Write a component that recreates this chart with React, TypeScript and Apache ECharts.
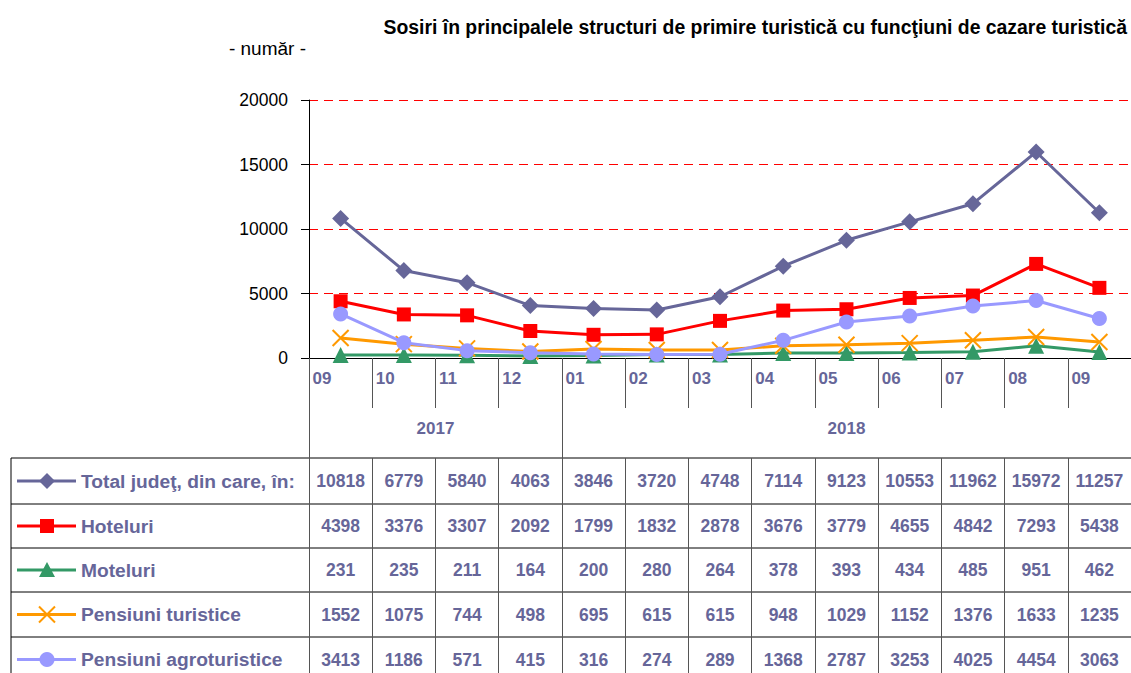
import React, { useEffect, useRef } from "react";
import * as echarts from "echarts";

const months = ["09", "10", "11", "12", "01", "02", "03", "04", "05", "06", "07", "08", "09"];
const years = ["2017", "2018"];
const yearStart = [0, 4];
const yearSpan = [4, 9];

const seriesNames = [
  "Total judeţ, din care, în:",
  "Hoteluri",
  "Moteluri",
  "Pensiuni turistice",
  "Pensiuni agroturistice",
];
const total = [10818, 6779, 5840, 4063, 3846, 3720, 4748, 7114, 9123, 10553, 11962, 15972, 11257];
const hoteluri = [4398, 3376, 3307, 2092, 1799, 1832, 2878, 3676, 3779, 4655, 4842, 7293, 5438];
const moteluri = [231, 235, 211, 164, 200, 280, 264, 378, 393, 434, 485, 951, 462];
const pensiuni = [1552, 1075, 744, 498, 695, 615, 615, 948, 1029, 1152, 1376, 1633, 1235];
const agro = [3413, 1186, 571, 415, 316, 274, 289, 1368, 2787, 3253, 4025, 4454, 3063];

const allSeries = [total, hoteluri, moteluri, pensiuni, agro];
const colors = ["#666699", "#ff0000", "#339966", "#ff9900", "#9999ff"];

const FONT = "'Liberation Sans', Arial, sans-serif";
const TXT = "#666699";

export default function App() {
  const ref = useRef<HTMLDivElement>(null);
  useEffect(() => {
    document.body.style.margin = "0";
    const chart = echarts.init(ref.current!, null, { renderer: "svg" });

    const gridTop = 100;
    const gridH = 258;
    const axisY = gridTop + gridH;
    const rowTops = [458, 504, 548, 592, 637, 682];
    const rowCenters = rowTops.slice(0, 5).map((t, i) => (t + rowTops[i + 1]) / 2);

    const symbols = ["diamond", "rect", "triangle", "path://M0 0L10 10M10 0L0 10", "circle"];
    const symSizes = [17, 14, 16, 16, 15];

    const rowAxes = allSeries.map((vals, i) => ({
      type: "category",
      gridIndex: 0,
      position: "bottom",
      offset: rowCenters[i] - axisY,
      data: vals.map(String),
      boundaryGap: true,
      axisLine: { show: false },
      axisTick: { show: false },
      splitLine: { show: false },
      axisLabel: {
        interval: 0,
        margin: 0,
        verticalAlign: "middle",
        color: TXT,
        fontFamily: FONT,
        fontWeight: "bold",
        fontSize: 17.5,
      },
    }));

    const graphic: any[] = [];
    graphic.push({
      type: "text",
      x: 1127,
      y: 27,
      style: {
        text: "Sosiri în principalele structuri de primire turistică cu funcţiuni de cazare turistică",
        align: "right",
        verticalAlign: "middle",
        fontFamily: FONT,
        fontWeight: "bold",
        fontSize: 19.4,
        fill: "#000",
      },
    });
    graphic.push({
      type: "text",
      x: 306,
      y: 48,
      style: {
        text: "- număr -",
        align: "right",
        verticalAlign: "middle",
        fontFamily: FONT,
        fontSize: 19,
        fill: "#000",
      },
    });
    rowTops.slice(0, 5).forEach((y) => {
      graphic.push({
        type: "line",
        shape: { x1: 11, y1: y, x2: 1131, y2: y },
        style: { stroke: "#000", lineWidth: 1 },
      });
    });
    graphic.push({
      type: "line",
      shape: { x1: 11, y1: rowTops[0], x2: 11, y2: 673 },
      style: { stroke: "#000", lineWidth: 1 },
    });
    rowCenters.forEach((cy, i) => {
      const c = colors[i];
      graphic.push({
        type: "line",
        shape: { x1: 17, y1: cy, x2: 76, y2: cy },
        style: { stroke: c, lineWidth: 3 },
      });
      const mx = 47;
      if (i === 0) {
        graphic.push({ type: "polygon", shape: { points: [[mx, cy - 8], [mx + 8, cy], [mx, cy + 8], [mx - 8, cy]] }, style: { fill: c } });
      } else if (i === 1) {
        graphic.push({ type: "rect", shape: { x: mx - 7, y: cy - 7, width: 14, height: 14 }, style: { fill: c } });
      } else if (i === 2) {
        graphic.push({ type: "polygon", shape: { points: [[mx, cy - 8], [mx + 8, cy + 7], [mx - 8, cy + 7]] }, style: { fill: c } });
      } else if (i === 3) {
        graphic.push({ type: "line", shape: { x1: mx - 8, y1: cy - 8, x2: mx + 8, y2: cy + 8 }, style: { stroke: c, lineWidth: 2 } });
        graphic.push({ type: "line", shape: { x1: mx + 8, y1: cy - 8, x2: mx - 8, y2: cy + 8 }, style: { stroke: c, lineWidth: 2 } });
      } else {
        graphic.push({ type: "circle", shape: { cx: mx, cy, r: 7.5 }, style: { fill: c } });
      }
      graphic.push({
        type: "text",
        x: 81,
        y: cy,
        style: {
          text: seriesNames[i],
          align: "left",
          verticalAlign: "middle",
          fontFamily: FONT,
          fontWeight: "bold",
          fontSize: 19.2,
          fill: TXT,
        },
      });
    });

    const yearCenters = yearStart.map((s, i) => s + yearSpan[i] / 2);

    chart.setOption({
      animation: false,
      backgroundColor: "#fff",
      grid: { left: 309, top: gridTop, height: gridH, width: 826, containLabel: false },
      xAxis: [
        {
          type: "category",
          data: months,
          boundaryGap: true,
          position: "bottom",
          axisLine: { show: true, lineStyle: { color: "#000", width: 1 } },
          axisTick: { show: true, interval: 0, length: 50, lineStyle: { color: "#555" } },
          axisLabel: {
            interval: 0,
            margin: 20,
            verticalAlign: "middle",
            color: TXT,
            fontFamily: FONT,
            fontWeight: "bold",
            fontSize: 17,
            formatter: (v: string) => `{a|${v}}`,
            rich: {
              a: { width: 56, align: "left", color: TXT, fontFamily: FONT, fontWeight: "bold", fontSize: 17 },
            },
          },
        },
        {
          type: "value",
          min: 0,
          max: months.length,
          position: "bottom",
          offset: 0,
          axisLine: { show: false },
          splitLine: { show: false },
          axisTick: { show: true, customValues: yearStart, length: 320, lineStyle: { color: "#555" } },
          axisLabel: {
            customValues: yearCenters,
            margin: 70,
            verticalAlign: "middle",
            color: TXT,
            fontFamily: FONT,
            fontWeight: "bold",
            fontSize: 17,
            formatter: (v: number) => years[yearCenters.indexOf(v)] ?? "",
          },
        },
        {
          type: "category",
          data: months,
          boundaryGap: true,
          position: "bottom",
          offset: rowTops[0] - axisY,
          axisLine: { show: false },
          axisTick: { show: true, interval: 0, length: 230, lineStyle: { color: "#555" } },
          axisLabel: { show: false },
        },
        ...rowAxes,
      ],
      yAxis: {
        type: "value",
        min: 0,
        max: 20000,
        interval: 5000,
        axisLine: { show: true, lineStyle: { color: "#000" } },
        axisTick: { show: true, length: 8, lineStyle: { color: "#000" } },
        splitLine: { show: true, lineStyle: { color: "#ff0000", type: [9, 6], width: 1 } },
        axisLabel: {
          margin: 21,
          color: "#000",
          fontFamily: FONT,
          fontSize: 17.5,
          formatter: (v: number) => String(v),
        },
      },
      series: allSeries.map((vals, i) => ({
        type: "line",
        name: seriesNames[i],
        data: vals,
        xAxisIndex: 0,
        yAxisIndex: 0,
        symbol: symbols[i],
        symbolSize: symSizes[i],
        showAllSymbol: true,
        lineStyle: { color: colors[i], width: 3 },
        itemStyle:
          i === 3
            ? { color: colors[i], borderColor: colors[i], borderWidth: 2 }
            : { color: colors[i] },
        z: 3 + i,
      })),
      graphic,
    });
    return () => chart.dispose();
  }, []);
  return <div ref={ref} style={{ width: 1131, height: 673 }} />;
}
